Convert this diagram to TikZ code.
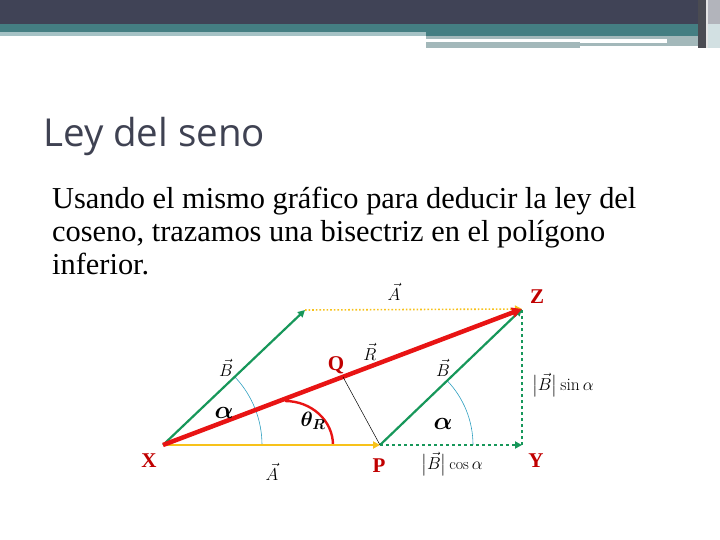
\documentclass[tikz,border=0pt]{standalone}
\usepackage{amsmath,bm}
\usepackage{fontspec}
\newfontfamily\titlefont{Open Sans}
\newfontfamily\bodyfont{Liberation Serif}
\usetikzlibrary{arrows.meta,calc}
\definecolor{hdark}{HTML}{404356}
\definecolor{hteal}{HTML}{447E82}
\definecolor{hlight}{HTML}{A5C2C5}
\definecolor{hgrey}{HTML}{A3B8BA}
\definecolor{titlecol}{HTML}{3F4252}
\definecolor{vgreen}{HTML}{17975A}
\definecolor{vred}{HTML}{E81414}
\definecolor{vyellow}{HTML}{F7C21A}
\definecolor{arcblue}{HTML}{2E9FC0}
\definecolor{lblred}{HTML}{C00000}
\tikzset{
  vec/.style={-{Triangle[length=7pt,width=7pt]}},
  greenvec/.style={vec, draw=vgreen, line width=2.2pt},
  pt/.style={font=\bodyfont\bfseries\fontsize{21}{22}\selectfont, text=lblred, inner sep=0},
  lbl/.style={font=\fontsize{16}{18}\selectfont, inner sep=0},
  biglbl/.style={lbl, font=\fontsize{23}{24}\selectfont},
  bodyline/.style={anchor=base west, inner sep=0, font=\bodyfont\fontsize{30.4}{34}\selectfont},
}
\begin{document}
\begin{tikzpicture}[x=1pt,y=-1pt]
\useasboundingbox (0,0) rectangle (720,540);
% header
\fill[hdark] (0,0) rectangle (720,24);
\fill[hteal] (0,24) rectangle (720,32);
\fill[hteal] (426,32) rectangle (700,36);
\fill[hlight] (0,32) rectangle (426,36);
\fill[hgrey] (426,36) rectangle (700,39);
\fill[hgrey] (426,42) rectangle (580,48);
\fill[hgrey] (580,43) rectangle (667,46);
\fill[hgrey] (667,36) rectangle (700,46);
\fill[black!55!hdark!80] (698,0) rectangle (706,48);
\fill[black!10] (706,0) rectangle (708,48);
\fill[hdark!40] (708,0) rectangle (720,24);
\fill[hlight!50] (708,24) rectangle (720,48);
% title and text
\node[anchor=base west, inner sep=0, text=titlecol, font=\titlefont\fontsize{38.5}{40}\selectfont] (title) at (43,147) {Ley del seno};
\node[bodyline] (l1) at (52,208) {Usando el mismo gráfico para deducir la ley del};
\node[bodyline] (l2) at (52,241) {coseno, trazamos una bisectriz en el polígono};
\node[bodyline] (l3) at (52,274) {inferior.};
% points
\coordinate (X) at (163,445);
\coordinate (P) at (380,445);
\coordinate (Y) at (522,445);
\coordinate (Z) at (522,309);
\coordinate (T) at (305,310);
\coordinate (Q) at (343,377);
% arcs
\draw[arcblue, line width=0.6pt] ($(X)+(99,0)$) arc[start angle=0, end angle=-43.3, radius=99];
\draw[arcblue, line width=0.6pt] ($(P)+(93,0)$) arc[start angle=0, end angle=-43.8, radius=93];
\draw[vred, line width=2.4pt] (285,401) arc[start angle=-90, end angle=0, x radius=48, y radius=44];
% vectors
\draw[vec, draw=vyellow, line width=1.6pt, dotted] (T) -- (Z);
\draw[greenvec] (X) -- (T);
\draw[greenvec] (P) -- (Z);
\draw[vec, draw=vgreen, line width=1.8pt, dashed] (P) -- (Y);
\draw[vgreen, line width=1.8pt, dashed] (Y) -- (Z);
\draw[vec, draw=vyellow, line width=2.6pt] (X) -- (P);
\draw[vred, line width=4.5pt, -{Triangle[length=10pt,width=10pt]}] (X) -- (Z);
\draw[black, line width=0.5pt] (Q) -- (P);
% labels
\node[pt] (lX) at (149,461) {X};
\node[pt] (lP) at (379,466) {P};
\node[pt] (lY) at (536,461) {Y};
\node[pt] (lZ) at (537,297) {Z};
\node[pt] (lQ) at (336,365) {Q};
\node[lbl] (A1) at (394,292) {$\vec{A}$};
\node[lbl] (A2) at (272,472) {$\vec{A}$};
\node[lbl] (B1) at (226,368) {$\vec{B}$};
\node[lbl] (B2) at (443,368) {$\vec{B}$};
\node[lbl] (R) at (370,352) {$\vec{R}$};
\node[biglbl] (al1) at (224,413) {$\bm{\alpha}$};
\node[biglbl] (al2) at (443,424) {$\bm{\alpha}$};
\node[lbl, font=\fontsize{21}{22}\selectfont] (th) at (313,421) {$\bm{\theta_R}$};
\node[lbl, anchor=west, font=\fontsize{17.5}{20}\selectfont] (bs) at (532,385) {$\bigl|\vec{B}\bigr|\sin\alpha$};
\node[lbl] (bc) at (452,464) {$\bigl|\vec{B}\bigr|\cos\alpha$};
\end{tikzpicture}
\end{document}
